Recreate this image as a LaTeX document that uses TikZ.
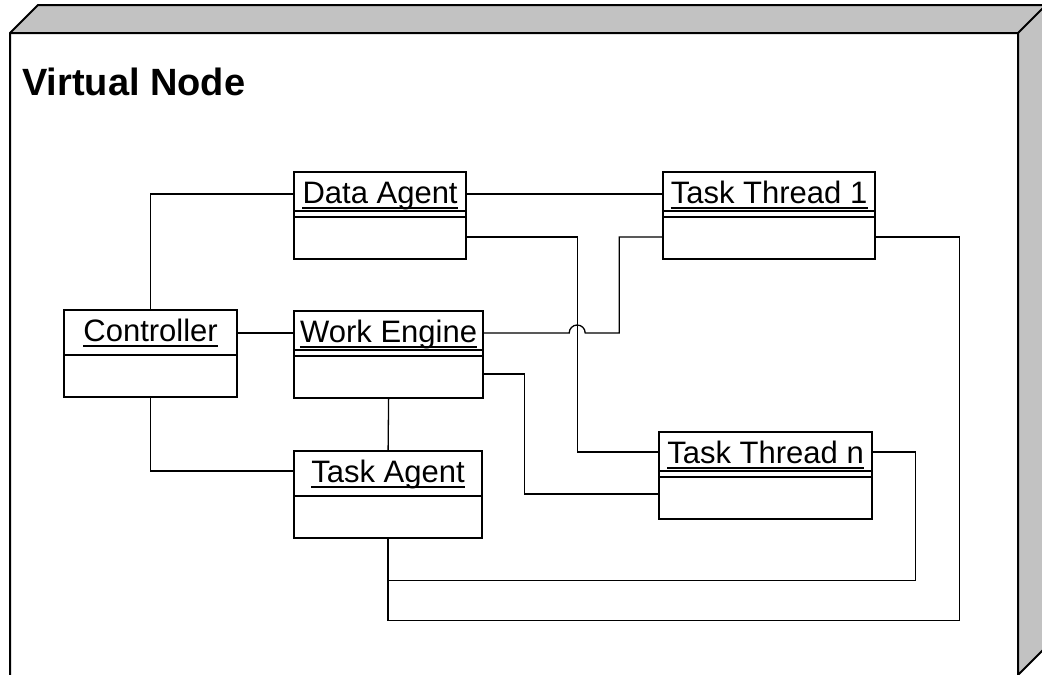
\documentclass[tikz,border=0pt]{standalone}
\usepackage{fontspec}
\setmainfont{Liberation Sans}
\usetikzlibrary{calc}

\tikzset{
  frameline/.style={line width=2pt, line join=miter},
  framefill/.style={fill=black!24},
  classframe/.style={draw, line width=2.2pt, anchor=north west, inner sep=0pt,
    minimum height=87pt},
  classname/.style={anchor=base, inner sep=0pt, font=\fontsize{31}{31}\selectfont},
  ulinestyle/.style={line width=1.8pt},
  sepline/.style={line width=2.2pt},
  thinsep/.style={line width=1.2pt},
  wire/.style={line width=1.3pt},
  titletext/.style={anchor=base west, inner sep=0pt,
    font=\fontsize{38}{38}\selectfont\bfseries},
}

% class box: name, x, y, width, label
\newcommand\classbox[5]{%
  \node[classframe, minimum width=#4pt] (#1) at (#2,#3) {};
  \node[classname] (#1-t) at ($(#1.north)+(0,32)$) {#5};
  \draw[ulinestyle] ($(#1-t.base west)+(0,5)$) -- ($(#1-t.base east)+(0,5)$);
  \draw[sepline] ($(#1.north west)+(0,46)$) -- ($(#1.north east)+(0,46)$);
}
% second, thinner rule above the compartment divider
\newcommand\doublesep[1]{%
  \draw[thinsep] ($(#1.north west)+(0,40)$) -- ($(#1.north east)+(0,40)$);
}

\begin{document}
\begin{tikzpicture}[x=1pt,y=-1pt]
  \useasboundingbox (0,0) rectangle (1042,675);
  \clip (0,0) rectangle (1042,675);

  % node cube: shaded top and right faces
  \fill[framefill] (10,33) -- (38,5) -- (1046,5) -- (1018,33) -- cycle;
  \fill[framefill] (1018,33) -- (1046,5) -- (1046,647) -- (1018,675) -- cycle;
  \draw[frameline] (10,700) -- (10,33) -- (38,5) -- (1046,5);
  \draw[frameline] (10,33) -- (1018,33) -- (1046,5);
  \draw[frameline] (1018,33) -- (1018,675) -- (1046,647);

  \node[titletext] (vn) at (22,95) {Virtual Node};

  % classes
  \classbox{ctl}{63}{309}{173}{Controller}
  \classbox{da}{293}{171}{172}{Data Agent}
  \doublesep{da}
  \classbox{tt1}{662}{171}{212}{Task Thread 1}
  \doublesep{tt1}
  \classbox{we}{293}{310}{189}{Work Engine}
  \doublesep{we}
  \classbox{ta}{293}{450}{188}{Task Agent}
  \classbox{ttn}{658}{431}{213}{Task Thread n}
  \doublesep{ttn}

  % connection points
  \coordinate (p-ctl-r)  at ($(ctl.north east)+(0,24)$);
  \coordinate (p-da-l)   at ($(da.north west)+(0,23)$);
  \coordinate (p-da-r1)  at ($(da.north east)+(0,23)$);
  \coordinate (p-da-r2)  at ($(da.north east)+(0,66)$);
  \coordinate (p-tt1-l2) at ($(tt1.north west)+(0,66)$);
  \coordinate (p-tt1-r)  at ($(tt1.north east)+(0,66)$);
  \coordinate (p-we-r1)  at ($(we.north east)+(0,23)$);
  \coordinate (p-we-r2)  at ($(we.north east)+(0,64)$);
  \coordinate (p-ta-l)   at ($(ta.north west)+(0,21)$);
  \coordinate (p-ttn-l1) at ($(ttn.north west)+(0,21)$);
  \coordinate (p-ttn-l2) at ($(ttn.north west)+(0,63)$);
  \coordinate (p-ttn-r)  at ($(ttn.north east)+(0,21)$);

  % links
  \draw[wire] (ctl.north) |- (p-da-l);
  \draw[wire] (p-ctl-r) -- (p-ctl-r -| we.west);
  \draw[wire] (ctl.south) |- (p-ta-l);
  \draw[wire] (p-da-r1) -- (p-da-r1 -| tt1.west);
  \draw[wire] (p-da-r2) -- ++(110,0) |- (p-ttn-l1);
  \draw[wire] (p-we-r1) -- ++(85,0) arc[start angle=180, end angle=0, radius=8pt]
    -- ++(34,0) |- (p-tt1-l2);
  \draw[wire] (p-we-r2) -- ++(40,0) |- (p-ttn-l2);
  \draw[wire] (we.south) -- (ta.north);
  \draw[wire] (ta.south) -- ++(0,41) -| ($(p-ttn-r)+(42,0)$) -- (p-ttn-r);
  \draw[wire] (ta.south) -- ++(0,81) -| ($(p-tt1-r)+(83,0)$) -- (p-tt1-r);
\end{tikzpicture}
\end{document}
